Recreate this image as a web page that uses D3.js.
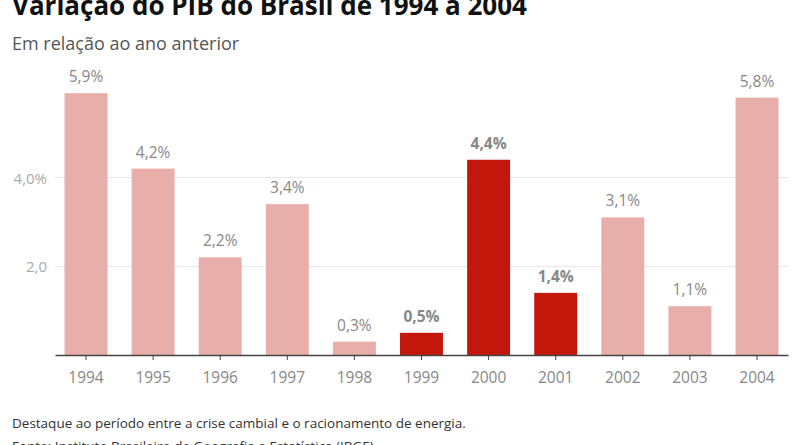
<!DOCTYPE html>
<html><head><meta charset="utf-8">
<script src="https://cdn.jsdelivr.net/npm/d3@7"></script>
<style>body{margin:0;background:#fff}svg{display:block}text{font-family:"Open Sans",sans-serif}</style>
</head><body>
<svg id="c" width="800" height="445"></svg>
<script>
const years = ["1994","1995","1996","1997","1998","1999","2000","2001","2002","2003","2004"];
const values = [5.9, 4.2, 2.2, 3.4, 0.3, 0.5, 4.4, 1.4, 3.1, 1.1, 5.8];
const highlight = ["1999","2000","2001"];
const yTicks = [2, 4];
const yTickLabels = ["2,0", "4,0%"];
const title = "Variação do PIB do Brasil de 1994 a 2004";
const subtitle = "Em relação ao ano anterior";
const note = "Destaque ao período entre a crise cambial e o racionamento de energia.";
const source = "Fonte: Instituto Brasileiro de Geografia e Estatística (IBGE)";

const svg = d3.select("#c");
const x = d3.scaleBand().domain(years).range([55, 788]).paddingInner(0.36).paddingOuter(0.142);
const y = d3.scaleLinear().domain([0, 4]).range([355, 177.5]);

svg.append("text").attr("x", 12).attr("y", 15).attr("font-size", 26).attr("font-weight", 700).attr("fill", "#111").text(title);
svg.append("text").attr("x", 12).attr("y", 50).attr("font-size", 18).attr("fill", "#555").text(subtitle);

const g = svg.append("g");
g.selectAll("line.grid").data(yTicks).join("line")
  .attr("x1", 55).attr("x2", 788).attr("y1", d => y(d)).attr("y2", d => y(d))
  .attr("stroke", "#e6e6e6").attr("stroke-width", 1);
g.selectAll("text.yl").data(yTicks).join("text")
  .attr("x", 47).attr("y", d => y(d) + 6).attr("text-anchor", "end")
  .attr("font-size", 15).attr("fill", "#aaa").text((d, i) => yTickLabels[i]);

const data = years.map((yr, i) => ({yr, v: values[i], hi: highlight.includes(yr)}));
svg.selectAll("rect.bar").data(data).join("rect")
  .attr("x", d => x(d.yr)).attr("width", x.bandwidth())
  .attr("y", d => y(d.v)).attr("height", d => y(0) - y(d.v))
  .attr("fill", d => d.hi ? "#c4170c" : "#e8aeaa");

svg.selectAll("text.val").data(data).join("text")
  .attr("x", d => x(d.yr) + x.bandwidth() / 2).attr("y", d => y(d.v) - 11)
  .attr("text-anchor", "middle").attr("font-size", 15.5)
  .attr("font-weight", d => d.hi ? 700 : 400)
  .attr("fill", "#888").text(d => d3.format(".1f")(d.v).replace(".", ",") + "%");

const xa = svg.append("g").attr("transform", `translate(0,${y(0)})`)
  .call(d3.axisBottom(x).tickSize(5).tickSizeOuter(0).tickPadding(12));
xa.select(".domain").attr("stroke", "#444").attr("stroke-width", 1.5);
xa.selectAll(".tick line").attr("stroke", "#444");
xa.selectAll(".tick text").attr("font-size", 15.5).attr("fill", "#888").attr("font-family", "Open Sans, sans-serif");

svg.append("text").attr("x", 12).attr("y", 428).attr("font-size", 13.5).attr("fill", "#333").text(note);
svg.append("text").attr("x", 12).attr("y", 451).attr("font-size", 13.5).attr("fill", "#333").text(source);
</script>
</body></html>
